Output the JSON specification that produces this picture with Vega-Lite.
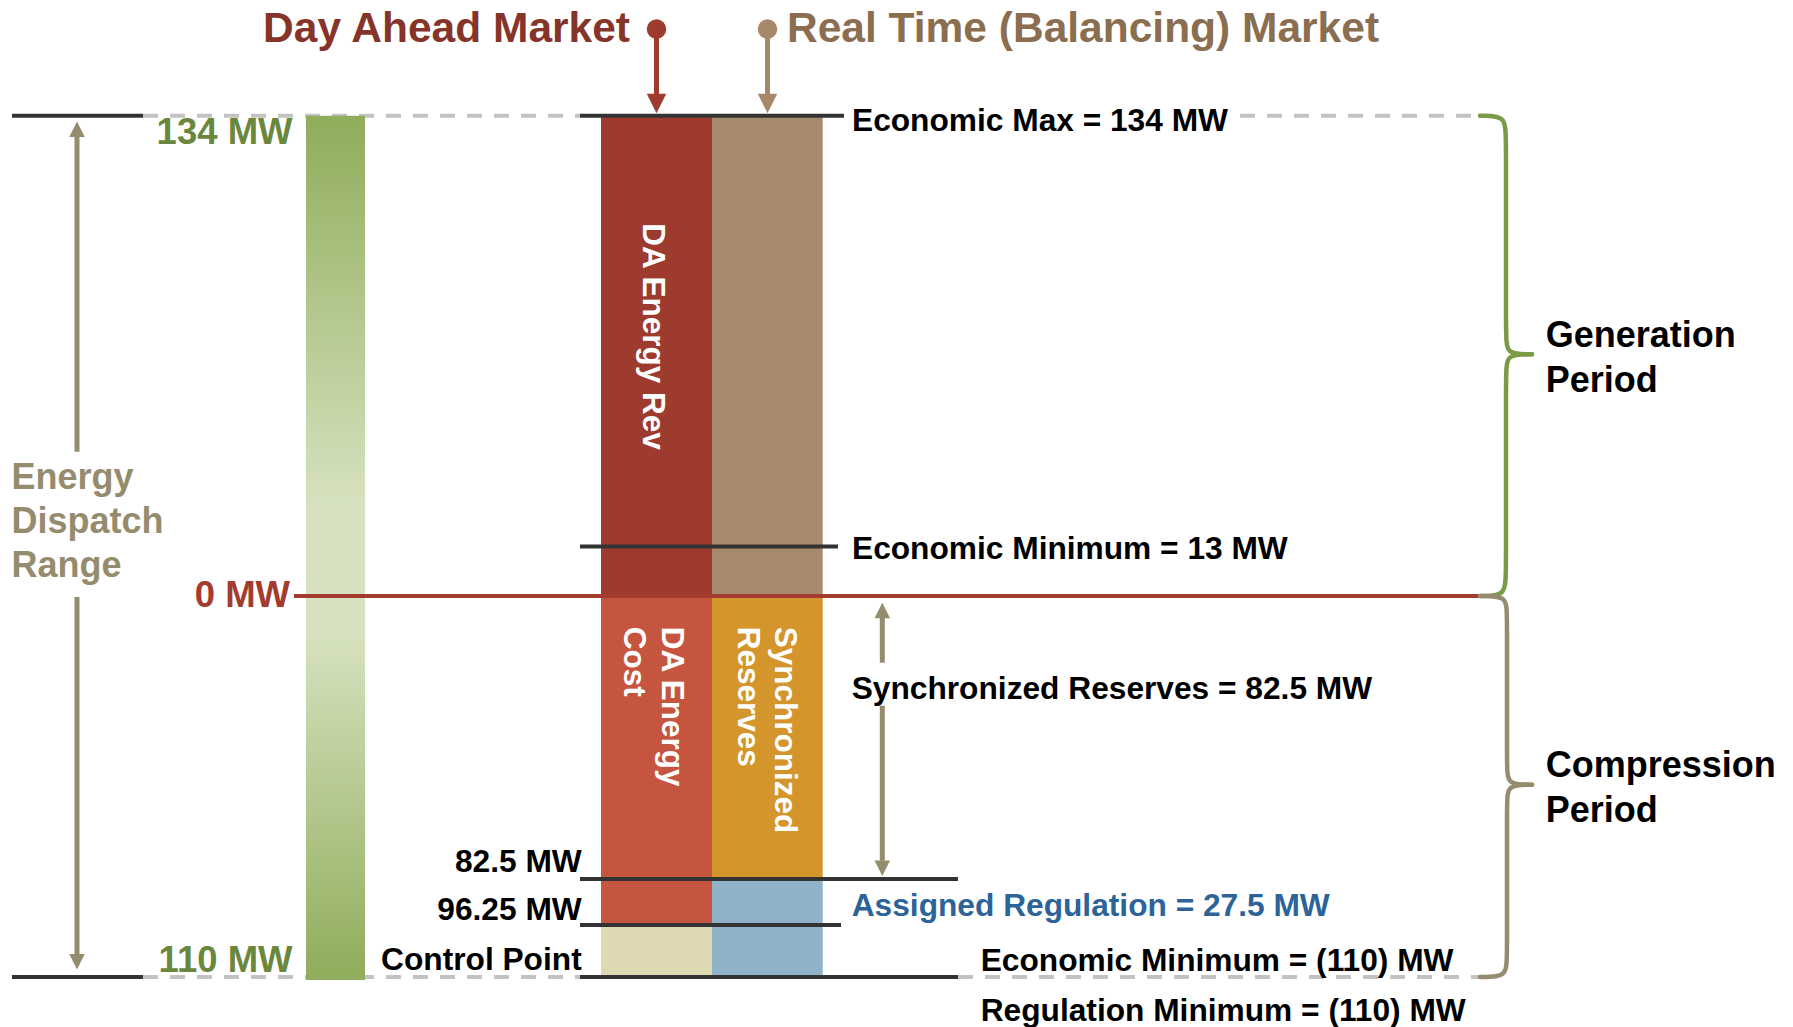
{
  "$schema": "https://vega.github.io/schema/vega-lite/v6.json",
  "width": 1793,
  "height": 1027,
  "padding": 0,
  "autosize": {"type": "none"},
  "background": "white",
  "config": {"view": {"stroke": null}, "text": {"font": "Liberation Sans", "fontWeight": "bold"}},
  "encoding": {
    "x": {"field": "x", "type": "quantitative", "scale": {"domain": [0, 1793], "range": [0, 1793], "nice": false, "zero": false}, "axis": null},
    "y": {"field": "y", "type": "quantitative", "scale": {"domain": [-110, -96.25, -82.5, 0, 13, 134], "range": [977, 925, 879, 596, 546.6, 115.7], "nice": false, "zero": false}, "axis": null}
  },
  "resolve": {"scale": {"color": "independent"}},
  "layer": [
    {
      "data": {"values": [
        {"x": 143, "x2": 580, "y": 134},
        {"x": 1240, "x2": 1481, "y": 134},
        {"x": 143, "x2": 580, "y": -110},
        {"x": 958, "x2": 1481, "y": -110}
      ]},
      "mark": {"type": "rule", "color": "#c3c3c3", "strokeWidth": 4, "strokeDash": [15, 12]},
      "encoding": {"x2": {"field": "x2"}}
    },
    {
      "data": {"values": [{"x": 306, "x2": 365, "y": 134, "y2": -110.8}]},
      "mark": {"type": "rect", "color": {"gradient": "linear", "x1": 0, "y1": 0, "x2": 0, "y2": 1, "stops": [
        {"offset": 0, "color": "#8fad5b"},
        {"offset": 0.45, "color": "#d6e2bf"},
        {"offset": 0.6, "color": "#d6e2bf"},
        {"offset": 1, "color": "#8fad5b"}
      ]}},
      "encoding": {"x2": {"field": "x2"}, "y2": {"field": "y2"}}
    },
    {
      "data": {"values": [
        {"part": "DA Energy Rev", "x": 601, "x2": 712, "y": 134, "y2": 0},
        {"part": "Real Time", "x": 712, "x2": 822.7, "y": 134, "y2": 0},
        {"part": "DA Energy Cost", "x": 601, "x2": 712, "y": 0, "y2": -96.25},
        {"part": "Control Point", "x": 601, "x2": 712, "y": -96.25, "y2": -110},
        {"part": "Synchronized Reserves", "x": 712, "x2": 822.7, "y": 0, "y2": -82.5},
        {"part": "Assigned Regulation", "x": 712, "x2": 822.7, "y": -82.5, "y2": -110}
      ]},
      "mark": {"type": "rect"},
      "encoding": {
        "x2": {"field": "x2"}, "y2": {"field": "y2"},
        "color": {"field": "part", "type": "nominal", "legend": null, "scale": {
          "domain": ["DA Energy Rev", "Real Time", "DA Energy Cost", "Control Point", "Synchronized Reserves", "Assigned Regulation"],
          "range": ["#9c3b2e", "#a68a6d", "#c6553f", "#dfd9b3", "#d4952d", "#8fb2c8"]}}
      }
    },
    {
      "data": {"values": [
        {"x": 12, "x2": 143, "y": 134},
        {"x": 12, "x2": 143, "y": -110},
        {"x": 580, "x2": 844, "y": 134},
        {"x": 580, "x2": 838, "y": 13},
        {"x": 580, "x2": 958, "y": -82.5},
        {"x": 580, "x2": 841, "y": -96.25},
        {"x": 580, "x2": 958, "y": -110}
      ]},
      "mark": {"type": "rule", "color": "#333333", "strokeWidth": 4},
      "encoding": {"x2": {"field": "x2"}}
    },
    {
      "data": {"values": [{"x": 294, "x2": 1481, "y": 0}]},
      "mark": {"type": "rule", "color": "#a33b2e", "strokeWidth": 4},
      "encoding": {"x2": {"field": "x2"}}
    },
    {
      "data": {"values": [
        {"a": "da", "x": 656.5, "y": 158.3, "y2": 138},
        {"a": "rt", "x": 767.5, "y": 158.3, "y2": 138},
        {"a": "edr", "x": 77, "y": 128.0, "y2": 39.65},
        {"a": "edr", "x": 77, "y": -0.3, "y2": -104.2},
        {"a": "sync", "x": 882.3, "y": -4.2, "y2": -19.44},
        {"a": "sync", "x": 882.3, "y": -31.98, "y2": -77.16}
      ]},
      "mark": {"type": "rule", "strokeWidth": 5},
      "encoding": {
        "y2": {"field": "y2"},
        "color": {"field": "a", "type": "nominal", "legend": null, "scale": {"domain": ["da", "rt", "edr", "sync"], "range": ["#9e3b2e", "#a8886b", "#958c6e", "#958c6e"]}}
      }
    },
    {
      "data": {"values": [
        {"a": "da", "x": 656.5, "y": 137.42},
        {"a": "rt", "x": 767.5, "y": 137.42}
      ]},
      "mark": {"type": "point", "shape": "M-1,-1L1,-1L0,1Z", "size": 380, "filled": true, "opacity": 1, "strokeWidth": 0},
      "encoding": {
        "color": {"field": "a", "type": "nominal", "legend": null, "scale": {"domain": ["da", "rt"], "range": ["#9e3b2e", "#a8886b"]}}
      }
    },
    {
      "data": {"values": [
        {"a": "edr", "x": 77, "y": -105.95},
        {"a": "sync", "x": 882.3, "y": -79.4}
      ]},
      "mark": {"type": "point", "shape": "M-1,-1L1,-1L0,1Z", "size": 240, "filled": true, "opacity": 1, "strokeWidth": 0, "color": "#958c6e"}
    },
    {
      "data": {"values": [
        {"a": "edr", "x": 77, "y": 130.2},
        {"a": "sync", "x": 882.3, "y": -4.2}
      ]},
      "mark": {"type": "point", "shape": "M-1,1L1,1L0,-1Z", "size": 240, "filled": true, "opacity": 1, "strokeWidth": 0, "color": "#958c6e"}
    },
    {
      "data": {"values": [
        {"a": "da", "x": 656.5, "y": 158.34},
        {"a": "rt", "x": 767.5, "y": 158.34}
      ]},
      "mark": {"type": "point", "shape": "circle", "size": 380, "filled": true, "opacity": 1, "strokeWidth": 0},
      "encoding": {
        "color": {"field": "a", "type": "nominal", "legend": null, "scale": {"domain": ["da", "rt"], "range": ["#9e3b2e", "#a8886b"]}}
      }
    },
    {
      "data": {"values": [
        {"brace": "Generation", "seg": "g1", "i": 0, "x": 1480, "y": 134},
        {"brace": "Generation", "seg": "g1", "i": 1, "x": 1506, "y": 134},
        {"brace": "Generation", "seg": "g1", "i": 2, "x": 1506, "y": 128},
        {"brace": "Generation", "seg": "g1", "i": 3, "x": 1506, "y": 72},
        {"brace": "Generation", "seg": "g1", "i": 4, "x": 1506, "y": 67},
        {"brace": "Generation", "seg": "g1", "i": 5, "x": 1532, "y": 67},
        {"brace": "Generation", "seg": "g2", "i": 0, "x": 1532, "y": 67},
        {"brace": "Generation", "seg": "g2", "i": 1, "x": 1506, "y": 67},
        {"brace": "Generation", "seg": "g2", "i": 2, "x": 1506, "y": 62},
        {"brace": "Generation", "seg": "g2", "i": 3, "x": 1506, "y": 6},
        {"brace": "Generation", "seg": "g2", "i": 4, "x": 1506, "y": 0},
        {"brace": "Generation", "seg": "g2", "i": 5, "x": 1480, "y": 0},
        {"brace": "Compression", "seg": "c1", "i": 0, "x": 1480, "y": 0},
        {"brace": "Compression", "seg": "c1", "i": 1, "x": 1507, "y": 0},
        {"brace": "Compression", "seg": "c1", "i": 2, "x": 1507, "y": -5},
        {"brace": "Compression", "seg": "c1", "i": 3, "x": 1507, "y": -50},
        {"brace": "Compression", "seg": "c1", "i": 4, "x": 1507, "y": -55},
        {"brace": "Compression", "seg": "c1", "i": 5, "x": 1532, "y": -55},
        {"brace": "Compression", "seg": "c2", "i": 0, "x": 1532, "y": -55},
        {"brace": "Compression", "seg": "c2", "i": 1, "x": 1507, "y": -55},
        {"brace": "Compression", "seg": "c2", "i": 2, "x": 1507, "y": -60},
        {"brace": "Compression", "seg": "c2", "i": 3, "x": 1507, "y": -105},
        {"brace": "Compression", "seg": "c2", "i": 4, "x": 1507, "y": -110},
        {"brace": "Compression", "seg": "c2", "i": 5, "x": 1480, "y": -110}
      ]},
      "mark": {"type": "line", "interpolate": "basis", "strokeWidth": 4.5, "strokeCap": "round"},
      "encoding": {
        "detail": {"field": "seg"},
        "order": {"field": "i", "type": "quantitative"},
        "color": {"field": "brace", "type": "nominal", "legend": null, "scale": {"domain": ["Generation", "Compression"], "range": ["#7b9a48", "#958c6e"]}}
      }
    },
    {
      "data": {"values": [{"label": "Day Ahead Market", "x": 630, "y": 158.46}]},
      "mark": {"type": "text", "align": "right", "baseline": "middle", "fontSize": 42.5, "color": "#86342a"},
      "encoding": {"text": {"field": "label"}}
    },
    {
      "data": {"values": [{"label": "Real Time (Balancing) Market", "x": 787, "y": 158.46}]},
      "mark": {"type": "text", "align": "left", "baseline": "middle", "fontSize": 42.5, "color": "#8b6d4f"},
      "encoding": {"text": {"field": "label"}}
    },
    {
      "data": {"values": [
        {"label": "134 MW", "x": 292.5, "y": 129.25},
        {"label": "110 MW", "x": 292.5, "y": -105.9}
      ]},
      "mark": {"type": "text", "align": "right", "baseline": "middle", "fontSize": 36.5, "color": "#6b873d"},
      "encoding": {"text": {"field": "label"}}
    },
    {
      "data": {"values": [{"label": "0 MW", "x": 290, "y": -0.09}]},
      "mark": {"type": "text", "align": "right", "baseline": "middle", "fontSize": 36.5, "color": "#a33b2e"},
      "encoding": {"text": {"field": "label"}}
    },
    {
      "data": {"values": [{"label": "Energy\nDispatch\nRange", "x": 11.5, "y": 29.09}]},
      "mark": {"type": "text", "align": "left", "baseline": "alphabetic", "fontSize": 36, "lineHeight": 43.7, "lineBreak": "\n", "color": "#958c6e"},
      "encoding": {"text": {"field": "label"}}
    },
    {
      "data": {"values": [
        {"label": "82.5 MW", "x": 581.7, "y": -77.63},
        {"label": "96.25 MW", "x": 581.7, "y": -91.86},
        {"label": "Control Point", "x": 581.7, "y": -105.58}
      ]},
      "mark": {"type": "text", "align": "right", "baseline": "middle", "fontSize": 31.7, "color": "#000000"},
      "encoding": {"text": {"field": "label"}}
    },
    {
      "data": {"values": [
        {"label": "Economic Max = 134 MW", "x": 852, "y": 132.57},
        {"label": "Economic Minimum = 13 MW", "x": 852, "y": 12.39},
        {"label": "Synchronized Reserves = 82.5 MW", "x": 851.7, "y": -27.2},
        {"label": "Economic Minimum = (110) MW", "x": 980.7, "y": -105.84},
        {"label": "Regulation Minimum = (110) MW", "x": 980.7, "y": -119.07}
      ]},
      "mark": {"type": "text", "align": "left", "baseline": "middle", "fontSize": 31.7, "color": "#000000"},
      "encoding": {"text": {"field": "label"}}
    },
    {
      "data": {"values": [{"label": "Assigned Regulation = 27.5 MW", "x": 851.7, "y": -90.66}]},
      "mark": {"type": "text", "align": "left", "baseline": "middle", "fontSize": 31.7, "color": "#2c6399"},
      "encoding": {"text": {"field": "label"}}
    },
    {
      "data": {"values": [
        {"label": "Generation\nPeriod", "x": 1545.7, "y": 69.13},
        {"label": "Compression\nPeriod", "x": 1545.7, "y": -52.68}
      ]},
      "mark": {"type": "text", "align": "left", "baseline": "alphabetic", "fontSize": 36, "lineHeight": 45.5, "lineBreak": "\n", "color": "#000000"},
      "encoding": {"text": {"field": "label"}}
    },
    {
      "data": {"values": [
        {"label": "DA Energy Rev", "x": 643.3, "y": 103.78},
        {"label": "DA Energy\nCost", "x": 661.7, "y": -8.95},
        {"label": "Synchronized\nReserves", "x": 775, "y": -8.95}
      ]},
      "mark": {"type": "text", "align": "left", "baseline": "alphabetic", "angle": 90, "fontSize": 31.5, "lineHeight": 37.5, "lineBreak": "\n", "color": "#ffffff"},
      "encoding": {"text": {"field": "label"}}
    }
  ]
}
